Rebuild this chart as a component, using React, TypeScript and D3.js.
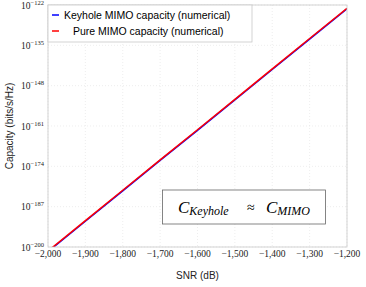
import React from "react";
import * as d3 from "d3";

const snrDb = [-2000, -1900, -1800, -1700, -1600, -1500, -1400, -1300, -1200];
const pureLog10Cap = [-201.3, -191.5, -181.7, -171.9, -162.2, -152.4, -142.6, -132.8, -123.06];
const keyholeLog10Cap = [-201.5, -191.7, -181.9, -172.1, -162.4, -152.6, -142.8, -133.0, -123.26];
const xTicks = [-2000, -1900, -1800, -1700, -1600, -1500, -1400, -1300, -1200];
const yTickExps = [-200, -187, -174, -161, -148, -135, -122];
const legendLabels = ["Keyhole MIMO capacity (numerical)", "Pure MIMO capacity (numerical)"];

const W = 366, H = 287;
const L = 48, R = 347, T = 5, B = 247;

export default function App() {
  const x = d3.scaleLinear().domain([-2000, -1200]).range([L, R]);
  const y = d3.scaleLinear().domain([-200, -122]).range([B, T]);
  const line = d3.line<number>().x((_, i) => x(snrDb[i])).y((d) => y(d));
  const fmt = d3.format(",");
  const serif = "'Liberation Serif', 'Times New Roman', serif";
  const sans = "'Liberation Sans', Arial, sans-serif";
  return (
    <svg width={W} height={H} style={{ position: "absolute", left: 0, top: 0 }}>
      <defs>
        <clipPath id="plot">
          <rect x={L} y={T} width={R - L} height={B - T} />
        </clipPath>
      </defs>
      <rect x={0} y={0} width={W} height={H} fill="#fff" />
      {xTicks.map((t) => (
        <line key={"gx" + t} x1={x(t)} x2={x(t)} y1={T} y2={B} stroke="#e3e3e3" strokeWidth={0.6} strokeDasharray="1,2" />
      ))}
      {yTickExps.map((t) => (
        <line key={"gy" + t} x1={L} x2={R} y1={y(t)} y2={y(t)} stroke="#e3e3e3" strokeWidth={0.6} strokeDasharray="1,2" />
      ))}
      <g clipPath="url(#plot)">
        <path d={line(keyholeLog10Cap) || ""} fill="none" stroke="#0000ff" strokeWidth={1.5} />
        <path d={line(pureLog10Cap) || ""} fill="none" stroke="#ff0000" strokeWidth={1.5} />
      </g>
      <rect x={L} y={T} width={R - L} height={B - T} fill="none" stroke="#c8c8c8" strokeWidth={0.8} />
      {xTicks.map((t) => (
        <text key={"tx" + t} x={x(t)} y={257} textAnchor="middle" fontFamily={serif} fontSize={9.5} fill="#222">
          {fmt(t).replace("-", "\u2212")}
        </text>
      ))}
      {yTickExps.map((t) => (
        <text key={"ty" + t} x={44} y={y(t) + 3.5} textAnchor="end" fontFamily={serif} fontSize={9.5} fill="#222">
          10<tspan dy={-4} fontSize={6.5}>{"\u2212" + Math.abs(t)}</tspan>
        </text>
      ))}
      <text x={(L + R) / 2} y={279} textAnchor="middle" fontFamily={sans} fontSize={10} fill="#222">SNR (dB)</text>
      <text transform={`translate(13,${(T + B) / 2}) rotate(-90)`} textAnchor="middle" fontFamily={sans} fontSize={10} fill="#222">Capacity (bits/s/Hz)</text>
      <rect x={L} y={T} width={204} height={37} fill="#fff" stroke="#c8c8c8" strokeWidth={0.8} />
      <line x1={52} x2={59} y1={15} y2={15} stroke="#0000ff" strokeWidth={1.5} />
      <line x1={52} x2={59} y1={31} y2={31} stroke="#ff0000" strokeWidth={1.5} />
      <text x={64} y={19} fontFamily={sans} fontSize={10.5} fill="#000">{legendLabels[0]}</text>
      <text x={73} y={35} fontFamily={sans} fontSize={10.5} fill="#000">{legendLabels[1]}</text>
      <rect x={162.5} y={190} width={163} height={34} fill="#fff" stroke="#666" strokeWidth={0.8} />
      <text x={178} y={213} fontFamily={serif} fontStyle="italic" fontSize={17} fill="#000">
        C<tspan dy={2} fontSize={12}>Keyhole</tspan>
      </text>
      <text x={247} y={212} fontFamily={serif} fontSize={14} fill="#000">≈</text>
      <text x={266} y={213} fontFamily={serif} fontStyle="italic" fontSize={17} fill="#000">
        C<tspan dy={2} fontSize={12}>MIMO</tspan>
      </text>
    </svg>
  );
}
